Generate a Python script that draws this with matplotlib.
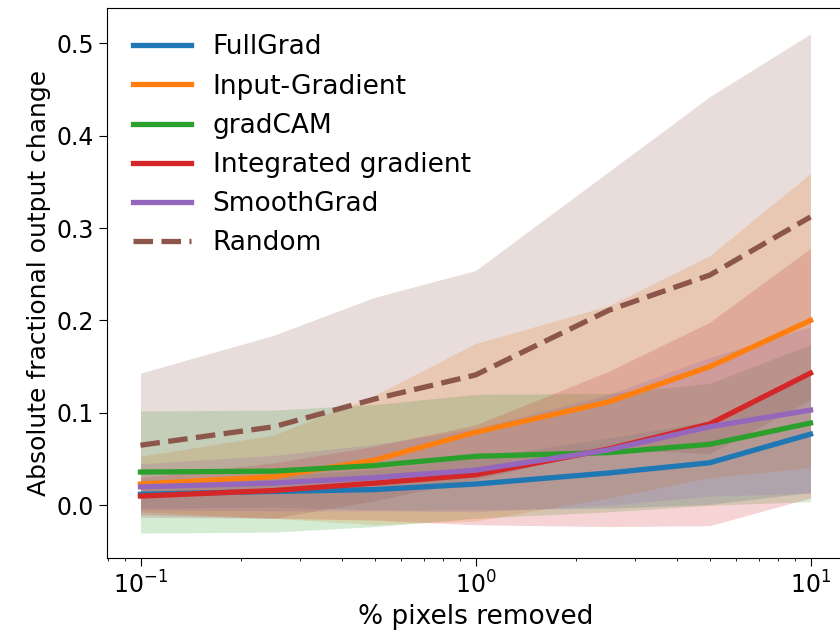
import numpy as np
import matplotlib
matplotlib.use("Agg")
import matplotlib.pyplot as plt

plt.rcParams["font.family"] = ["DejaVu Sans"]

pct = [0.1, 0.25, 0.5, 1.0, 2.5, 5.0, 10.0]

labels = ["FullGrad", "Input-Gradient", "gradCAM", "Integrated gradient", "SmoothGrad", "Random"]

fullgrad = [0.012, 0.015, 0.017, 0.023, 0.035, 0.046, 0.077]
inputgrad = [0.023, 0.031, 0.049, 0.079, 0.112, 0.150, 0.200]
gradcam = [0.036, 0.037, 0.043, 0.053, 0.057, 0.066, 0.089]
intgrad = [0.010, 0.016, 0.024, 0.033, 0.061, 0.088, 0.143]
smoothgrad = [0.020, 0.024, 0.030, 0.038, 0.060, 0.085, 0.103]
random_ = [0.065, 0.085, 0.115, 0.141, 0.211, 0.249, 0.312]

fullgrad_std = [0.015, 0.017, 0.022, 0.028, 0.038, 0.045, 0.063]
inputgrad_std = [0.030, 0.045, 0.070, 0.096, 0.104, 0.120, 0.159]
gradcam_std = [0.066, 0.066, 0.066, 0.067, 0.064, 0.066, 0.085]
intgrad_std = [0.020, 0.030, 0.040, 0.054, 0.084, 0.110, 0.135]
smoothgrad_std = [0.025, 0.030, 0.036, 0.045, 0.060, 0.075, 0.090]
random_std = [0.078, 0.099, 0.110, 0.113, 0.150, 0.193, 0.198]

means = [fullgrad, inputgrad, gradcam, intgrad, smoothgrad, random_]
stds = [fullgrad_std, inputgrad_std, gradcam_std, intgrad_std, smoothgrad_std, random_std]
styles = ["-", "-", "-", "-", "-", "--"]

fig = plt.figure(figsize=(8.4, 6.34), dpi=100)
ax = fig.add_axes([107 / 840, 76 / 634, 737 / 840, 550 / 634])

for i, (m, s, lab, ls) in enumerate(zip(means, stds, labels, styles)):
    m = np.array(m)
    s = np.array(s)
    ax.fill_between(pct, m - s, m + s, color="C%d" % i, alpha=0.2, lw=0)
    ax.plot(pct, m, ls, color="C%d" % i, lw=3.8, label=lab)

ax.set_xscale("log")
ax.set_xlim(10 ** -1.1, 10 ** 1.1)
ax.set_ylim(-0.057, 0.538)
ax.set_yticks([0.0, 0.1, 0.2, 0.3, 0.4, 0.5])
ax.tick_params(labelsize=17, length=6)
ax.set_xlabel("% pixels removed", fontsize=19)
ax.set_ylabel("Absolute fractional output change", fontsize=18)
ax.legend(loc="upper left", frameon=False, fontsize=19, handlelength=2.2,
          handletextpad=0.8, borderaxespad=0.6, labelspacing=0.5)

fig.savefig("out.png", dpi=100)
